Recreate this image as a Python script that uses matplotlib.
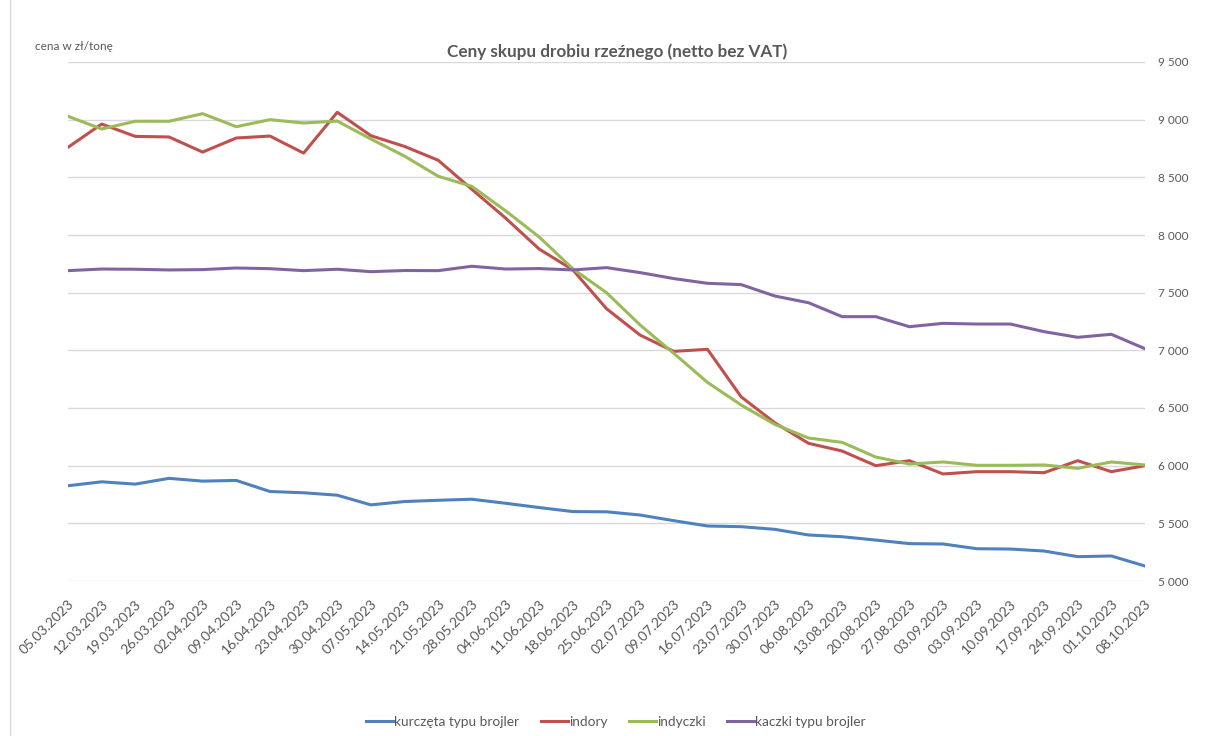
import matplotlib.pyplot as plt
import numpy as np
from matplotlib.lines import Line2D

# --- dane ---
daty = ["05.03.2023", "12.03.2023", "19.03.2023", "26.03.2023", "02.04.2023",
        "09.04.2023", "16.04.2023", "23.04.2023", "30.04.2023", "07.05.2023",
        "14.05.2023", "21.05.2023", "28.05.2023", "04.06.2023", "11.06.2023",
        "18.06.2023", "25.06.2023", "02.07.2023", "09.07.2023", "16.07.2023",
        "23.07.2023", "30.07.2023", "06.08.2023", "13.08.2023", "20.08.2023",
        "27.08.2023", "03.09.2023", "03.09.2023", "10.09.2023", "17.09.2023",
        "24.09.2023", "01.10.2023", "08.10.2023"]

kurczeta = [5826, 5860, 5840, 5890, 5866, 5872, 5776, 5765, 5744, 5660,
            5689, 5700, 5709, 5674, 5637, 5602, 5600, 5572, 5523, 5477,
            5471, 5448, 5399, 5384, 5355, 5324, 5321, 5280, 5277, 5260,
            5211, 5217, 5130]

indory = [8760, 8962, 8855, 8850, 8719, 8841, 8858, 8710, 9064, 8861,
          8768, 8648, 8396, 8147, 7878, 7698, 7361, 7132, 6991, 7009,
          6597, 6372, 6194, 6127, 6000, 6043, 5928, 5948, 5948, 5939,
          6043, 5948, 6000]

indyczki = [9029, 8919, 8986, 8986, 9052, 8939, 9000, 8971, 8988, 8832,
            8684, 8509, 8422, 8210, 7983, 7707, 7500, 7219, 6974, 6722,
            6526, 6358, 6240, 6202, 6075, 6014, 6032, 6003, 6003, 6006,
            5977, 6032, 6006]

kaczki = [7691, 7705, 7703, 7697, 7700, 7714, 7708, 7691, 7703, 7682,
          7692, 7691, 7729, 7705, 7709, 7697, 7717, 7674, 7622, 7581,
          7570, 7471, 7413, 7292, 7292, 7205, 7234, 7228, 7228, 7162,
          7113, 7139, 7014]

serie = [
    ("kurczęta typu brojler", kurczeta, "#4F81BD"),
    ("indory", indory, "#C0504D"),
    ("indyczki", indyczki, "#9BBB59"),
    ("kaczki typu brojler", kaczki, "#8064A2"),
]

plt.rcParams['font.family'] = ['Lato', 'DejaVu Sans']
SZARY = "#595959"

fig = plt.figure(figsize=(12.08, 7.36), dpi=100)
ax = fig.add_axes([68 / 1208, 1 - 581 / 736, (1145 - 68) / 1208, (581 - 62) / 736])

x = np.arange(len(daty))
for nazwa, wart, kolor in serie:
    ax.plot(x, wart, color=kolor, linewidth=2.2, label=nazwa, solid_joinstyle='round')

ax.set_xlim(0, len(daty) - 1)
ax.set_ylim(5000, 9500)
yt = np.arange(5000, 9501, 500)
ax.set_yticks(yt)
ax.set_yticklabels([f"{v:,}".replace(",", " ") for v in yt], fontsize=8.5, color=SZARY)
ax.yaxis.tick_right()
ax.tick_params(axis='y', length=0, pad=9)
ax.grid(axis='y', color='#d9d9d9', linewidth=1)
ax.set_axisbelow(True)

ax.set_xticks(x)
ax.set_xticklabels(daty, rotation=45, ha='right', va='top', rotation_mode='anchor',
                   fontsize=10, color=SZARY)
ax.tick_params(axis='x', length=0, pad=12)

for s in ax.spines.values():
    s.set_visible(False)

fig.text(617 / 1208, 1 - 52 / 736, "Ceny skupu drobiu rzeźnego (netto bez VAT)", ha='center',
         va='center', fontsize=12.3, fontweight='bold', color=SZARY)
fig.text(35 / 1208, 1 - 47 / 736, "cena w zł/tonę", ha='left', va='center',
         fontsize=8.5, color=SZARY)

uchwyty = [Line2D([0], [0], color=k, linewidth=2.2) for _, _, k in serie]
fig.legend(uchwyty, [n for n, _, _ in serie], loc='center', bbox_to_anchor=(616 / 1208, 1 - 722 / 736),
           ncol=4, frameon=False, fontsize=9.8, handlelength=2.0, handletextpad=0.05,
           columnspacing=1.6, labelcolor=SZARY)

# ramka wykresu (widoczna tylko lewa krawedz)
fig.add_artist(Line2D([10 / 1208, 10 / 1208], [0, 1], transform=fig.transFigure,
                      color='#d9d9d9', linewidth=1))

fig.savefig("out.png", dpi=100)
